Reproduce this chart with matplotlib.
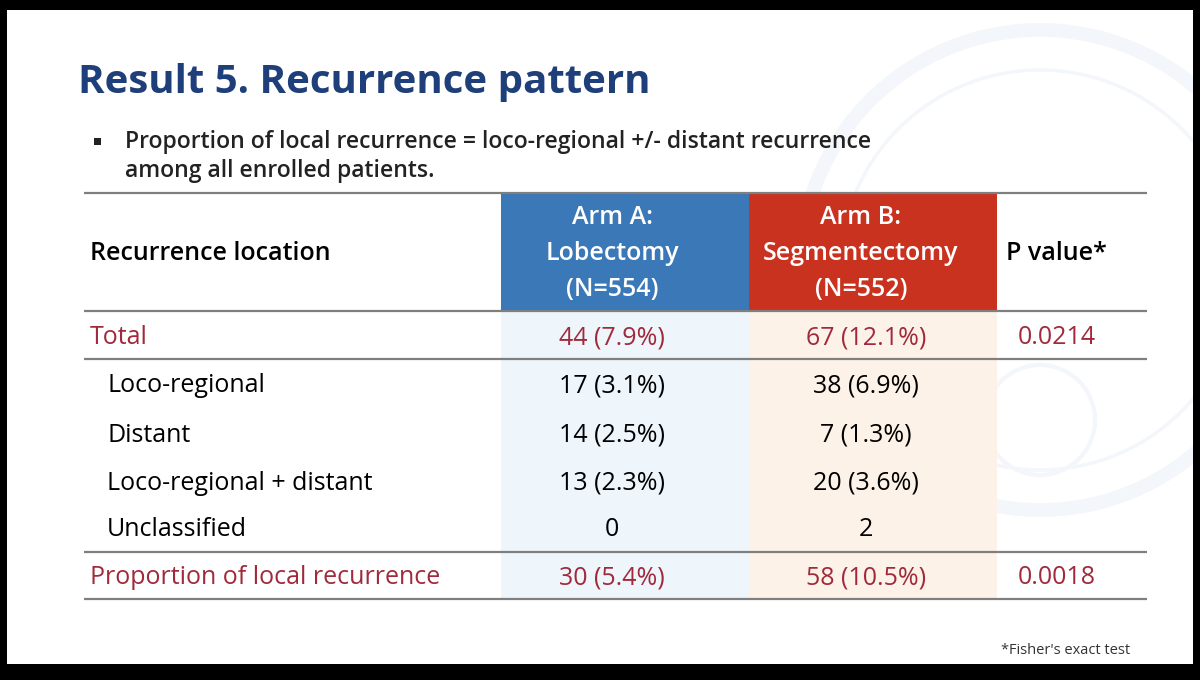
import matplotlib
matplotlib.use("Agg")
import matplotlib.pyplot as plt
import matplotlib.patches as patches

# slide content
title = "Result 5. Recurrence pattern"
bullet_lines = ["Proportion of local recurrence = loco-regional +/- distant recurrence",
                "among all enrolled patients."]
header_label = "Recurrence location"
arm_a_header = ["Arm A:", "Lobectomy", "(N=554)"]
arm_b_header = ["Arm B:", "Segmentectomy", "(N=552)"]
pvalue_header = "P value*"

row_labels = ["Total", "Loco-regional", "Distant", "Loco-regional + distant",
              "Unclassified", "Proportion of local recurrence"]
arm_a_values = ["44 (7.9%)", "17 (3.1%)", "14 (2.5%)", "13 (2.3%)", "0", "30 (5.4%)"]
arm_b_values = ["67 (12.1%)", "38 (6.9%)", "7 (1.3%)", "20 (3.6%)", "2", "58 (10.5%)"]
p_values = ["0.0214", "", "", "", "", "0.0018"]
is_summary = [True, False, False, False, False, True]
footnote = "*Fisher's exact test"

TITLE_BLUE = "#1f3f7a"
DARK_RED = "#a02a3b"
BLUE = "#3b78b8"
RED = "#c9321f"
FONT = "Open Sans"
FS = 18

fig = plt.figure(figsize=(12, 6.8), dpi=100)
fig.patch.set_facecolor("black")
ax = fig.add_axes([0, 0, 1, 1])
ax.set_xlim(0, 1200)
ax.set_ylim(680, 0)
ax.axis("off")

# slide background
slide = patches.Rectangle((7, 10), 1186, 654, facecolor="white", edgecolor="none")
ax.add_patch(slide)

# faint emblem watermark, kept inside the slide
for (cx, cy, r, lw) in [(1040, 270, 240, 10), (1040, 270, 200, 2.5), (1040, 420, 55, 3)]:
    ring = patches.Circle((cx, cy), r, fill=False, edgecolor="#f3f6fa",
                          linewidth=lw, zorder=1)
    ax.add_patch(ring)
    ring.set_clip_path(slide)

ax.text(78, 82, title, fontsize=29, fontweight="bold", color=TITLE_BLUE,
        family=FONT, va="center", ha="left", zorder=5)

ax.add_patch(patches.Rectangle((94, 138), 7, 7, facecolor="#222222", edgecolor="none", zorder=5))
for i, line in enumerate(bullet_lines):
    ax.text(125, 142 + i * 29, line, fontsize=16.6, fontweight="semibold", color="#222222",
            family=FONT, va="center", ha="left", zorder=5)

# table geometry
left, right = 84, 1147
col_a = (501, 749)
col_b = (749, 997)
top, head_bottom = 193, 311
row_y = [338, 386, 435, 483, 530, 578]
sep_after = {0: 359, 4: 552}
bottom = 599

# column tints
ax.add_patch(patches.Rectangle((col_a[0], head_bottom), col_a[1] - col_a[0], bottom - head_bottom,
                               facecolor="#eef5fb", edgecolor="none", zorder=2))
ax.add_patch(patches.Rectangle((col_b[0], head_bottom), col_b[1] - col_b[0], bottom - head_bottom,
                               facecolor="#fdf2e8", edgecolor="none", zorder=2))
# header cells
ax.add_patch(patches.Rectangle((col_a[0], top), col_a[1] - col_a[0], head_bottom - top,
                               facecolor=BLUE, edgecolor="none", zorder=3))
ax.add_patch(patches.Rectangle((col_b[0], top), col_b[1] - col_b[0], head_bottom - top,
                               facecolor=RED, edgecolor="none", zorder=3))

for y in [top, head_bottom, sep_after[0], sep_after[4], bottom]:
    ax.plot([left, right], [y, y], color="#7f7f7f", linewidth=1.6, zorder=4,
            solid_capstyle="butt")

head_mid = 254
ax.text(90, head_mid, header_label, fontsize=FS, fontweight="semibold", color="black",
        family=FONT, va="center", ha="left", zorder=5)
ax.text(1006, head_mid, pvalue_header, fontsize=FS, fontweight="semibold", color="black",
        family=FONT, va="center", ha="left", zorder=5)
for i, (a, b) in enumerate(zip(arm_a_header, arm_b_header)):
    y = head_mid + (i - 1) * 36
    ax.text(612, y, a, fontsize=FS, fontweight="semibold", color="white",
            family=FONT, va="center", ha="center", zorder=5)
    ax.text(861, y, b, fontsize=FS, fontweight="semibold", color="white",
            family=FONT, va="center", ha="center", zorder=5)

for i, label in enumerate(row_labels):
    y = row_y[i]
    color = DARK_RED if is_summary[i] else "black"
    x_label = 90 if is_summary[i] else 107
    ax.text(x_label, y, label, fontsize=FS, color=color, family=FONT,
            va="center", ha="left", zorder=5)
    ax.text(612, y, arm_a_values[i], fontsize=FS, color=color, family=FONT,
            va="center", ha="center", zorder=5)
    ax.text(866, y, arm_b_values[i], fontsize=FS, color=color, family=FONT,
            va="center", ha="center", zorder=5)
    if p_values[i]:
        ax.text(1018, y, p_values[i], fontsize=FS, color=color, family=FONT,
                va="center", ha="left", zorder=5)

ax.text(1130, 650, footnote, fontsize=10.5, color="#333333", family=FONT,
        va="center", ha="right", zorder=5)

fig.savefig("out.png", dpi=100, facecolor=fig.get_facecolor())
